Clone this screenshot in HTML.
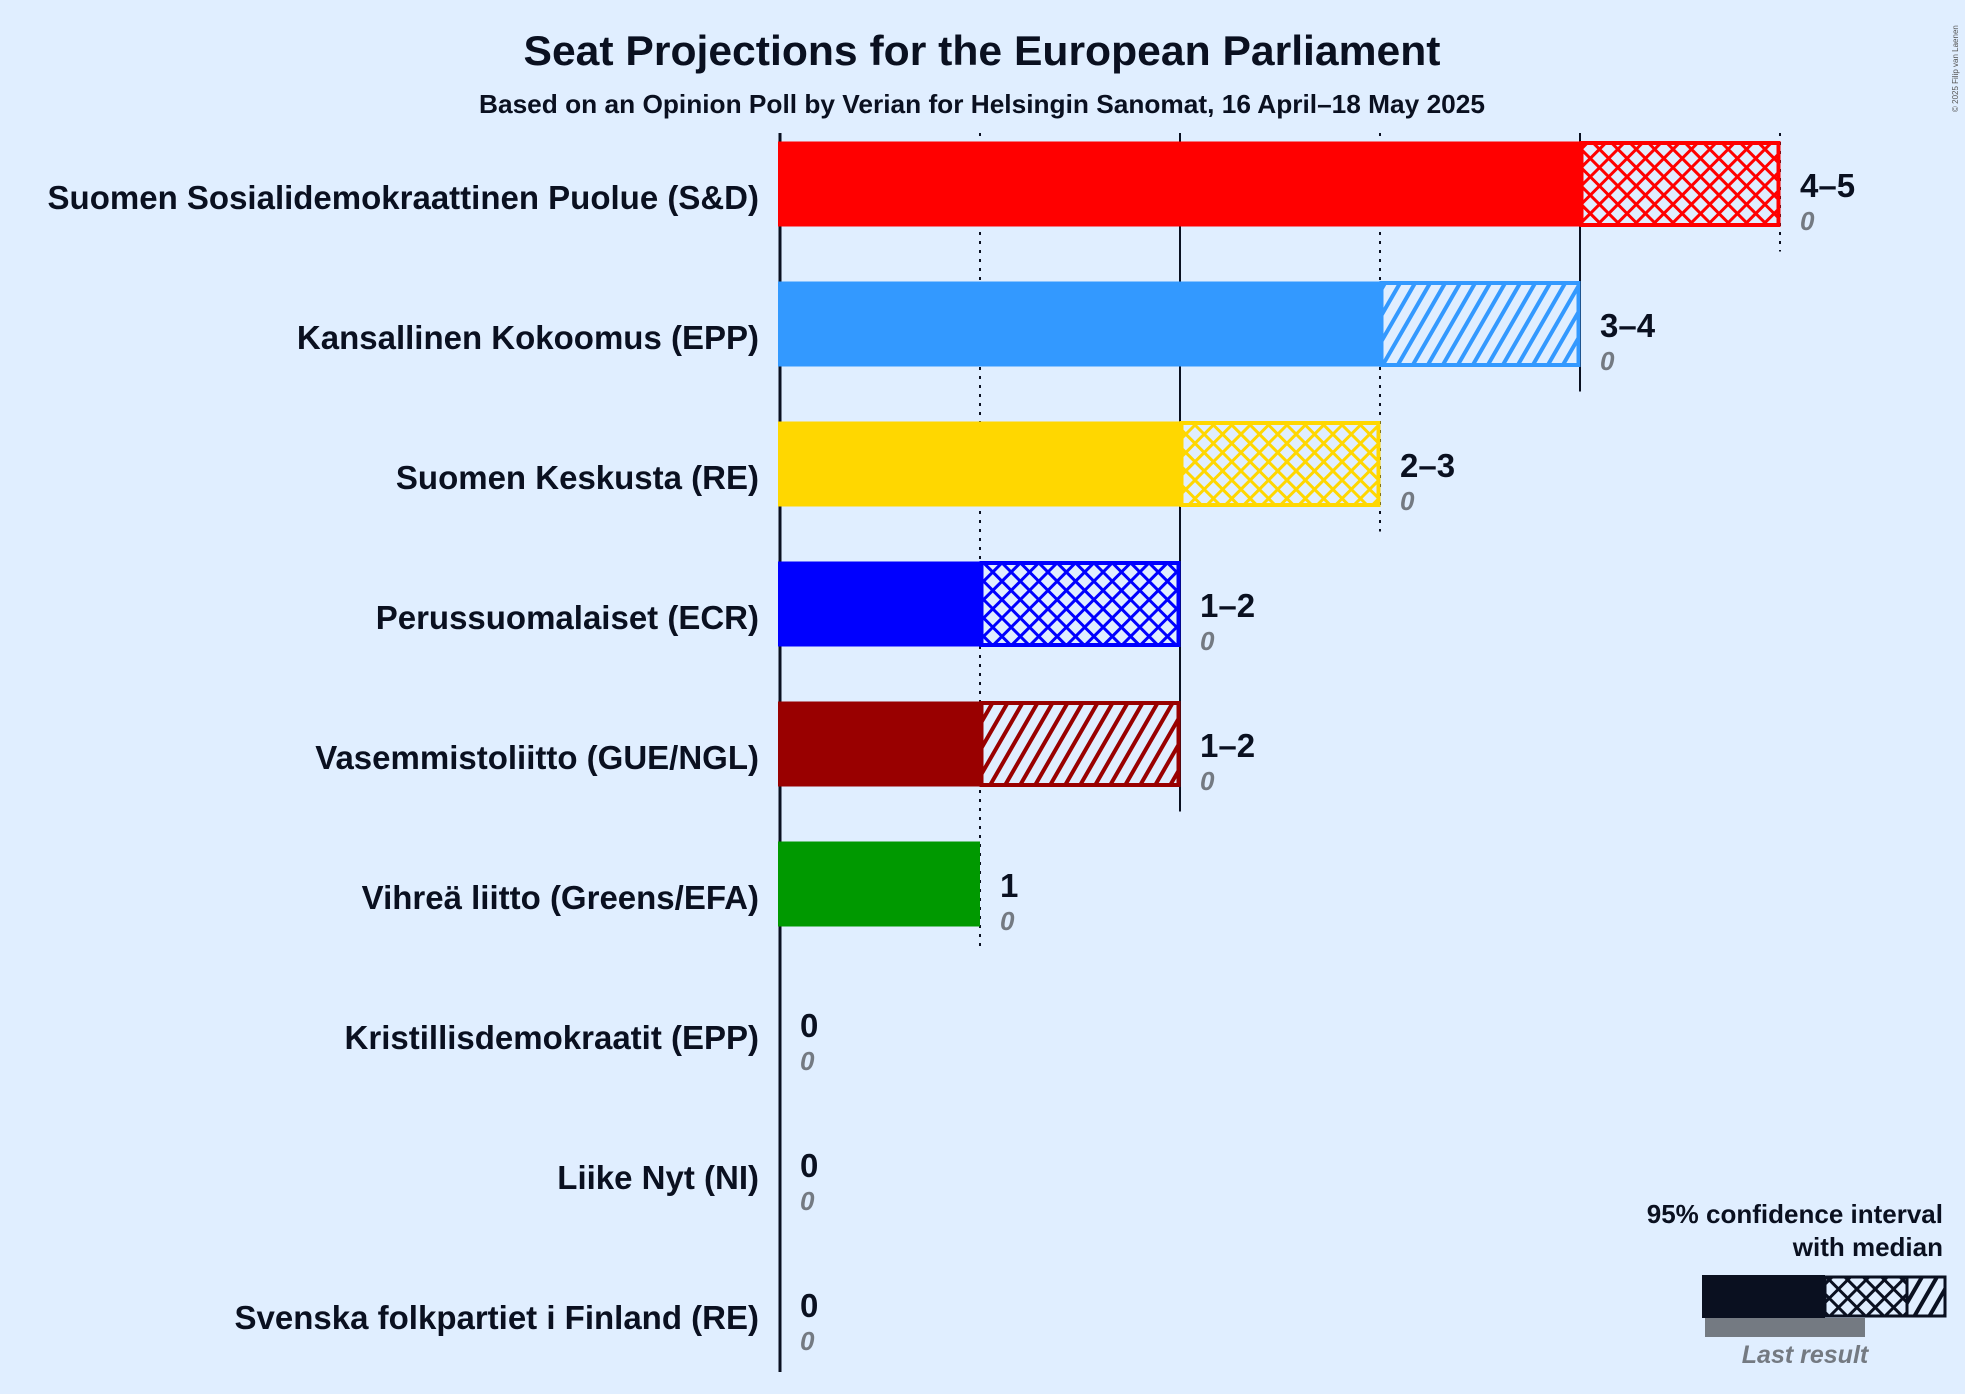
<!DOCTYPE html>
<html><head><meta charset="utf-8"><style>
html,body{margin:0;padding:0;background:#E0EEFF;}
svg{display:block;font-family:"Liberation Sans",sans-serif;}
</style></head><body>
<svg id="chart" width="1965" height="1394" viewBox="0 0 1965 1394" xmlns="http://www.w3.org/2000/svg">
<defs></defs>
<rect width="1965" height="1394" fill="#E0EEFF"/>
<text x="982" y="65" text-anchor="middle" font-size="42" font-weight="bold" fill="#0a1020" textLength="917" lengthAdjust="spacingAndGlyphs">Seat Projections for the European Parliament</text>
<text x="982" y="113" text-anchor="middle" font-size="26" font-weight="bold" fill="#0a1020" textLength="1006" lengthAdjust="spacingAndGlyphs">Based on an Opinion Poll by Verian for Helsingin Sanomat, 16 April–18 May 2025</text>
<text transform="translate(1958,112) rotate(-90)" font-size="8" fill="#555">© 2025 Filip van Laenen</text>
<g id="grid"></g>
<g id="bars"></g>
<g id="legend">
<text x="1943" y="1223" text-anchor="end" font-size="26" font-weight="bold" fill="#0a1020">95% confidence interval</text>
<text x="1943" y="1256" text-anchor="end" font-size="26" font-weight="bold" fill="#0a1020">with median</text>
<rect x="1705" y="1318" width="160" height="19" fill="#747a82"/>
<rect x="1702" y="1275" width="123" height="43" fill="#0a1020"/>
<rect id="legCross" x="1825" y="1277" width="82" height="39" stroke="#0a1020" stroke-width="3"/>
<rect id="legDiag" x="1907" y="1277" width="38" height="39" stroke="#0a1020" stroke-width="3"/>
<text x="1805" y="1363" text-anchor="middle" font-size="25" font-weight="bold" font-style="italic" fill="#747a82">Last result</text>
</g>
</svg>
<script>
const parties = ["Suomen Sosialidemokraattinen Puolue (S&D)","Kansallinen Kokoomus (EPP)","Suomen Keskusta (RE)","Perussuomalaiset (ECR)","Vasemmistoliitto (GUE/NGL)","Vihreä liitto (Greens/EFA)","Kristillisdemokraatit (EPP)","Liike Nyt (NI)","Svenska folkpartiet i Finland (RE)"];
const lows = [4,3,2,1,1,1,0,0,0];
const medians = [5,3,3,2,1,1,0,0,0];
const highs = [5,4,3,2,2,1,0,0,0];
const lastResults = [0,0,0,0,0,0,0,0,0];
const colors = ["#FF0000","#3399FF","#FFD700","#0000FF","#990000","#009900","#66bb66","#888888","#ffcc00"];
const ticks = [0,1,2,3,4,5];

const NS="http://www.w3.org/2000/svg";
const x0=780, perSeat=200, rowTop=184, rowStep=140, barH=85;
const xs=v=>x0+v*perSeat;
const yc=i=>rowTop+i*rowStep;
function mk(tag,attrs,parent){const e=document.createElementNS(NS,tag);for(const k in attrs)e.setAttribute(k,attrs[k]);parent.appendChild(e);return e;}
const defs=document.querySelector('defs');
function makePatterns(id,color){
  const c=mk('pattern',{id:'cross'+id,patternUnits:'userSpaceOnUse',width:13,height:13,patternTransform:'rotate(45)'},defs);
  
  
  mk('rect',{width:13,height:13,fill:'#E0EEFF'},c);
  mk('rect',{x:0,y:0,width:3,height:13,fill:color},c);
  mk('rect',{x:0,y:0,width:13,height:3,fill:color},c);
  const d=mk('pattern',{id:'diag'+id,patternUnits:'userSpaceOnUse',width:13,height:13,patternTransform:'rotate(30)'},defs);
  
  
  mk('rect',{width:13,height:13,fill:'#E0EEFF'},d);
  mk('rect',{x:0,y:0,width:4,height:13,fill:color},d);
}
colors.forEach((c,i)=>makePatterns(i,c));
makePatterns('L','#0a1020');
document.getElementById('legCross').setAttribute('fill','url(#crossL)');
document.getElementById('legDiag').setAttribute('fill','url(#diagL)');

const grid=document.getElementById('grid');
ticks.forEach(t=>{
  let last=0;
  highs.forEach((h,i)=>{if(h>=t)last=i;});
  let bottom = t===0 ? 1372 : yc(last)+barH/2+25;
  const l=mk('line',{x1:xs(t),x2:xs(t),y1:133,y2:bottom,stroke:'#0a1020','stroke-width':t===0?3:2,'stroke-dasharray':t%2===1?'3,6':'none'},grid);
  
  
});

const bars=document.getElementById('bars');
parties.forEach((p,i)=>{
  const c=yc(i), top=c-barH/2;
  const g=mk('g',{},bars);
  
  
  const lab=mk('text',{x:759,y:c+25,'text-anchor':'end','font-size':33,'font-weight':'bold',fill:'#0a1020'},g);
  lab.textContent=p;
  
  
  if(lows[i]>0){
    const r=mk('rect',{x:xs(0)-2,y:top,width:xs(lows[i])-xs(0)+2,height:barH,fill:colors[i]},g);
    
    
  }
  if(highs[i]>lows[i]){
    const pat = medians[i]===highs[i] ? 'url(#cross'+i+')' : 'url(#diag'+i+')';
    const r=mk('rect',{x:xs(lows[i])+1.5,y:top+1.5,width:xs(highs[i])-xs(lows[i])-3,height:barH-3,fill:pat,stroke:colors[i],'stroke-width':4},g);
    
    
  }
  const tx=xs(highs[i])+20;
  const rng=mk('text',{x:tx,y:c+13,'font-size':33,'font-weight':'bold',fill:'#0a1020'},g);
  rng.textContent = lows[i]===highs[i] ? String(lows[i]) : lows[i]+'–'+highs[i];
  
  
  const lr=mk('text',{x:tx,y:c+46,'font-size':26,'font-weight':'bold','font-style':'italic',fill:'#747a82'},g);
  lr.textContent=String(lastResults[i]);
  
  
});
</script>
</body></html>
